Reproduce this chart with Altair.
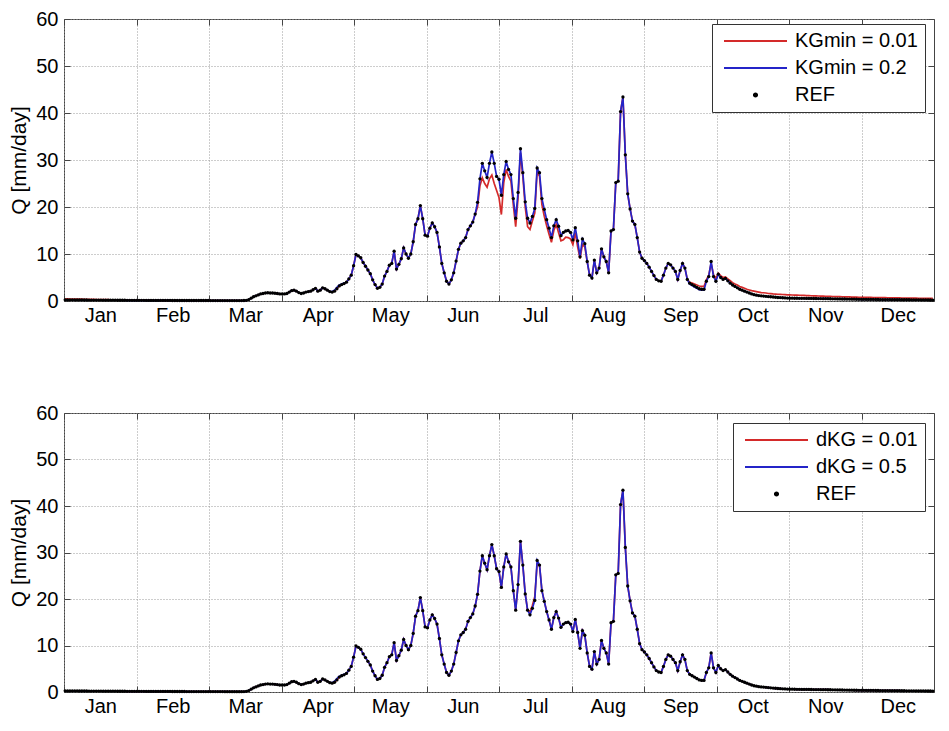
import altair as alt
import pandas as pd

months = ["Jan", "Feb", "Mar", "Apr", "May", "Jun", "Jul", "Aug", "Sep", "Oct", "Nov", "Dec"]
y_ticks = [0, 10, 20, 30, 40, 50, 60]

# REF discharge, one value per day (Q in mm/day)
ref = (
    # Jan (0-30)
    [0.25, 0.25, 0.24, 0.24, 0.23, 0.23, 0.22, 0.22, 0.21, 0.21, 0.2, 0.2, 0.2, 0.19, 0.19, 0.19,
     0.18, 0.18, 0.18, 0.17, 0.17, 0.17, 0.16, 0.16, 0.16, 0.16, 0.15, 0.15, 0.15, 0.15, 0.14]
    # Feb (31-58)
    + [0.14, 0.14, 0.14, 0.13, 0.13, 0.13, 0.13, 0.13, 0.12, 0.12, 0.12, 0.12, 0.12, 0.12,
       0.11, 0.11, 0.11, 0.11, 0.11, 0.11, 0.1, 0.1, 0.1, 0.1, 0.1, 0.1, 0.1, 0.1]
    # 59-76
    + [0.1, 0.1, 0.09, 0.09, 0.09, 0.09, 0.09, 0.09, 0.08, 0.08, 0.08, 0.08, 0.08, 0.08, 0.08, 0.08, 0.1, 0.15]
    # 77-89
    + [0.3, 0.6, 0.9, 1.1, 1.3, 1.5, 1.6, 1.7, 1.75, 1.7, 1.7, 1.65, 1.6]
    # 90-119
    + [1.5, 1.5, 1.5, 1.6, 1.9, 2.2, 2.3, 2.1, 1.8, 1.6, 1.7, 1.9, 2.0, 2.1, 2.4, 2.7, 2.1, 2.3, 2.8, 2.6,
       2.3, 2.0, 1.9, 2.1, 2.6, 3.2, 3.5, 3.7, 4.0, 4.7]
    # 120-150
    + [5.5, 7.5, 9.9, 9.6, 9.2, 8.2, 7.4, 6.6, 5.8, 4.5, 3.5, 2.7, 2.9, 3.6, 5.3, 6.3, 7.6, 8.0, 10.6, 6.8,
       7.8, 9.0, 11.3, 10.0, 9.1, 10.0, 12.6, 16.3, 17.5, 20.3, 17.5]
    # 151-180
    + [14.0, 13.8, 15.5, 16.6, 15.8, 14.6, 11.5, 8.0, 6.0, 4.2, 3.6, 4.5, 6.0, 8.5, 11.0, 12.3, 12.8, 13.5,
       15.2, 16.0, 16.8, 18.5, 21.0, 26.0, 29.3, 27.7, 26.3, 29.3, 31.7, 29.3]
    # 181-211
    + [26.5, 25.9, 22.5, 26.9, 29.7, 28.0, 26.9, 21.8, 17.6, 23.1, 32.4, 27.3, 21.1, 17.6, 16.6, 18.0, 19.7,
       28.3, 27.3, 21.8, 19.5, 17.3, 15.5, 13.5, 16.0, 17.3, 15.9, 13.9, 14.6, 14.9, 15.0]
    # 212-242
    + [14.6, 13.0, 15.6, 12.8, 9.4, 13.2, 12.2, 8.4, 5.5, 4.9, 8.7, 6.0, 7.0, 11.1, 9.4, 8.4, 6.0, 14.9,
       15.2, 25.2, 25.5, 40.3, 43.4, 31.1, 22.8, 19.6, 17.0, 16.3, 13.5, 10.4, 9.1]
    # 243-272
    + [8.6, 8.0, 7.2, 6.3, 5.4, 4.6, 4.3, 4.2, 5.5, 7.0, 8.0, 7.7, 7.0, 6.3, 4.6, 6.5, 8.0, 7.0, 4.6, 3.8,
       3.5, 3.2, 2.9, 2.6, 2.5, 2.5, 4.2, 5.2, 8.4, 5.2]
    # 273-303
    + [4.2, 5.7, 5.0, 4.6, 4.8, 4.3, 3.8, 3.4, 3.1, 2.8, 2.5, 2.3, 2.1, 1.9, 1.7, 1.5, 1.35, 1.25, 1.15,
       1.1, 1.05, 1.0, 0.95, 0.9, 0.85, 0.8, 0.75, 0.72, 0.69, 0.66, 0.63]
    # 304-333
    + [0.6, 0.6, 0.59, 0.58, 0.57, 0.56, 0.56, 0.55, 0.55, 0.54, 0.53, 0.53, 0.52, 0.51, 0.5, 0.5, 0.49,
       0.48, 0.47, 0.46, 0.45, 0.44, 0.43, 0.42, 0.41, 0.4, 0.39, 0.38, 0.37, 0.36]
    # 334-364
    + [0.35, 0.35, 0.34, 0.34, 0.33, 0.33, 0.32, 0.32, 0.31, 0.31, 0.3, 0.3, 0.3, 0.29, 0.29, 0.28, 0.28,
       0.27, 0.27, 0.26, 0.26, 0.25, 0.25, 0.24, 0.24, 0.23, 0.23, 0.22, 0.22, 0.21, 0.2]
)

# KGmin = 0.01 where it departs from REF
kg001_jan = [0.45, 0.44, 0.43, 0.42, 0.41, 0.4, 0.39, 0.38, 0.37, 0.36, 0.35, 0.34, 0.33, 0.32, 0.31,
             0.3, 0.29, 0.28, 0.28, 0.27, 0.26, 0.25, 0.25, 0.24, 0.23, 0.23, 0.22, 0.21, 0.21, 0.2,
             0.2, 0.19, 0.19, 0.18, 0.18, 0.17, 0.17, 0.16, 0.16, 0.16, 0.15, 0.15, 0.15, 0.14, 0.14]  # days 0-44
kg001_summer = [20.0, 24.5, 26.2, 25.0, 24.2, 26.0, 26.8, 25.0, 23.5, 22.0, 18.4, 25.2, 28.0, 26.5, 25.5,
                20.5, 15.8, 22.0, 31.5, 26.5, 20.0, 15.8, 15.2, 17.0, 18.7, 27.5, 26.5, 20.5, 18.0, 16.0,
                14.2, 12.5, 15.0, 16.3, 14.5, 12.8, 13.0, 13.6, 13.5, 13.2, 12.0, 14.5, 11.5, 9.0, 12.0,
                11.5]  # days 173-218
kg001_autumn = [4.0, 3.8, 3.6, 3.4, 3.2, 3.1, 3.1, 4.5, 5.5, 8.0, 5.6, 4.8, 5.9, 5.4, 5.0, 5.1, 4.7, 4.3,
                3.9, 3.6, 3.4, 3.1, 2.9, 2.7, 2.5, 2.35, 2.2, 2.1, 2.0, 1.9, 1.8, 1.75, 1.7, 1.6, 1.55,
                1.5, 1.47, 1.44, 1.41, 1.38, 1.35, 1.32,
                1.3, 1.28, 1.26, 1.24, 1.22, 1.2, 1.18, 1.16, 1.14, 1.12, 1.1, 1.08, 1.06, 1.04, 1.02,
                1.0, 0.99, 0.97, 0.96, 0.94, 0.93, 0.91, 0.9, 0.88, 0.87, 0.86, 0.84, 0.83, 0.82, 0.8,
                0.8, 0.79, 0.78, 0.77, 0.76, 0.75, 0.74, 0.73, 0.72, 0.71, 0.7, 0.69, 0.68, 0.67, 0.66,
                0.66, 0.65, 0.64, 0.63, 0.62, 0.62, 0.61, 0.6, 0.6, 0.59, 0.58, 0.58, 0.57, 0.56, 0.56,
                0.55]  # days 262-364
# KGmin = 0.2 / dKG = 0.5 where they depart from REF
blue_apr = [2.0, 2.3, 2.9, 3.4, 3.6, 3.8]          # days 112-117
blue_sep = [3.6, 3.3, 3.0, 2.7, 2.4, 2.3, 2.3]     # days 262-268
# dKG = 0.01 where it departs from REF
dkg001_jul = [17.2, 18.6, 20.5, 27.5]             # days 195-198

kgmin001 = kg001_jan + ref[45:173] + kg001_summer + ref[219:262] + kg001_autumn
kgmin02 = ref[:112] + blue_apr + ref[118:262] + blue_sep + ref[269:]
dkg001 = ref[:195] + dkg001_jul + ref[199:]
dkg05 = ref[:112] + blue_apr + ref[118:]

RED = "#d42a2a"
BLUE = "#2424c8"
FONT = "Liberation Sans"
W = 870
N = len(ref)
DAY = [i + 0.5 for i in range(N)]
MW = 365 / 12
bounds = [k * MW for k in range(12)]
label_expr = "[" + ",".join("'%s'" % m for m in months) + "][round(datum.value / %f)]" % MW
DOT = "M-0.05,0A0.05,0.05 0 1,0 0.05,0A0.05,0.05 0 1,0 -0.05,0Z"
LINE = "M-1,0L1,0"
SYM = 3969


def panel(name_a, vals_a, name_b, vals_b, height, lx, ly):
    domain = [name_a, name_b, "REF"]
    df = pd.DataFrame({
        "day": DAY * 3,
        "Q": vals_a + vals_b + ref,
        "series": [name_a] * N + [name_b] * N + ["REF"] * N,
    })
    xs = alt.Scale(domain=[0, 365], nice=False, zero=False)
    ys = alt.Scale(domain=[0, 60], nice=False)
    legend = alt.Legend(
        title=None, orient="none", legendX=lx, legendY=ly,
        strokeColor="#333", fillColor="white", padding=7, cornerRadius=0,
        labelFont=FONT, labelFontSize=20, labelColor="black", labelOffset=7,
        clipHeight=20, rowPadding=7, symbolStrokeWidth=2, symbolOffset=4, symbolSize=SYM,
    )
    color = alt.Color("series:N", scale=alt.Scale(domain=domain, range=[RED, BLUE, "black"]), legend=legend)
    shape = alt.Shape("series:N", scale=alt.Scale(domain=domain, range=[LINE, LINE, DOT]), legend=legend)

    base = alt.Chart(df)
    tick_common = dict(labels=False, grid=False, domain=False, ticks=True, tickSize=6, tickColor="#444",
                       tickWidth=1, title=None)
    # inward ticks: axes pushed onto the opposite edge so ticks point into the plot
    x_in_bottom = alt.Axis(values=bounds, orient="top", offset=-height, **tick_common)
    x_in_top = alt.Axis(values=bounds, orient="bottom", offset=-height, **tick_common)
    y_in_left = alt.Axis(values=y_ticks, orient="right", offset=-W, **tick_common)
    y_in_right = alt.Axis(values=y_ticks, orient="left", offset=-W, **tick_common)

    label_axis = alt.Axis(values=bounds, orient="bottom", labelExpr=label_expr, grid=True, gridDash=[1, 2],
                          gridColor="#9a9a9a", gridWidth=1, ticks=False, domain=False,
                          labelOffset=W / 24, labelFont=FONT, labelFontSize=20, labelColor="black",
                          labelPadding=4, labelBound=False, labelFlush=False, labelOverlap=False, title=None)
    y_axis = alt.Axis(values=y_ticks, orient="left", grid=True, gridDash=[1, 2], gridColor="#9a9a9a",
                      ticks=False, domain=False, labelFont=FONT, labelFontSize=20, labelColor="black",
                      labelPadding=6, title="Q [mm/day]", titleFont=FONT, titleFontSize=21,
                      titleFontWeight="normal", titleColor="black", titlePadding=6)

    red = base.transform_filter(alt.datum.series == name_a).mark_line(strokeWidth=1.7).encode(
        x=alt.X("day:Q", scale=xs, axis=x_in_bottom),
        y=alt.Y("Q:Q", scale=ys, axis=y_in_left),
        color=color,
    )
    blue = base.transform_filter(alt.datum.series == name_b).mark_line(strokeWidth=1.7).encode(
        x=alt.X("day:Q", scale=xs, axis=x_in_top),
        y=alt.Y("Q:Q", scale=ys, axis=y_in_right),
        color=color,
    )
    pts = base.transform_filter(alt.datum.series == "REF").mark_point(
        filled=True, shape="circle", size=11, opacity=1).encode(
        x=alt.X("day:Q", scale=xs, axis=label_axis),
        y=alt.Y("Q:Q", scale=ys, axis=y_axis),
        color=color,
    )
    # carries only the legend symbol shapes (no rows pass the filter)
    key = base.transform_filter(alt.datum.series == "none").mark_point(filled=False, strokeWidth=1.5).encode(
        x=alt.X("day:Q", scale=xs, axis=None),
        y=alt.Y("Q:Q", scale=ys, axis=None),
        color=color,
        shape=shape,
    )
    return alt.layer(red, blue, pts, key).resolve_axis(x="independent", y="independent").properties(
        width=W, height=height)


top = panel("KGmin = 0.01", kgmin001, "KGmin = 0.2", kgmin02, 282, 648, 5)
bottom = panel("dKG = 0.01", dkg001, "dKG = 0.5", dkg05, 279, 669, 10)

chart = alt.vconcat(top, bottom, spacing=76).resolve_scale(color="independent", shape="independent").properties(
    padding={"left": 0, "top": 0, "right": 0, "bottom": 0}
).configure_view(stroke="#444", strokeWidth=1)

chart.save("out.html", embed_options={"renderer": "svg", "actions": False})
